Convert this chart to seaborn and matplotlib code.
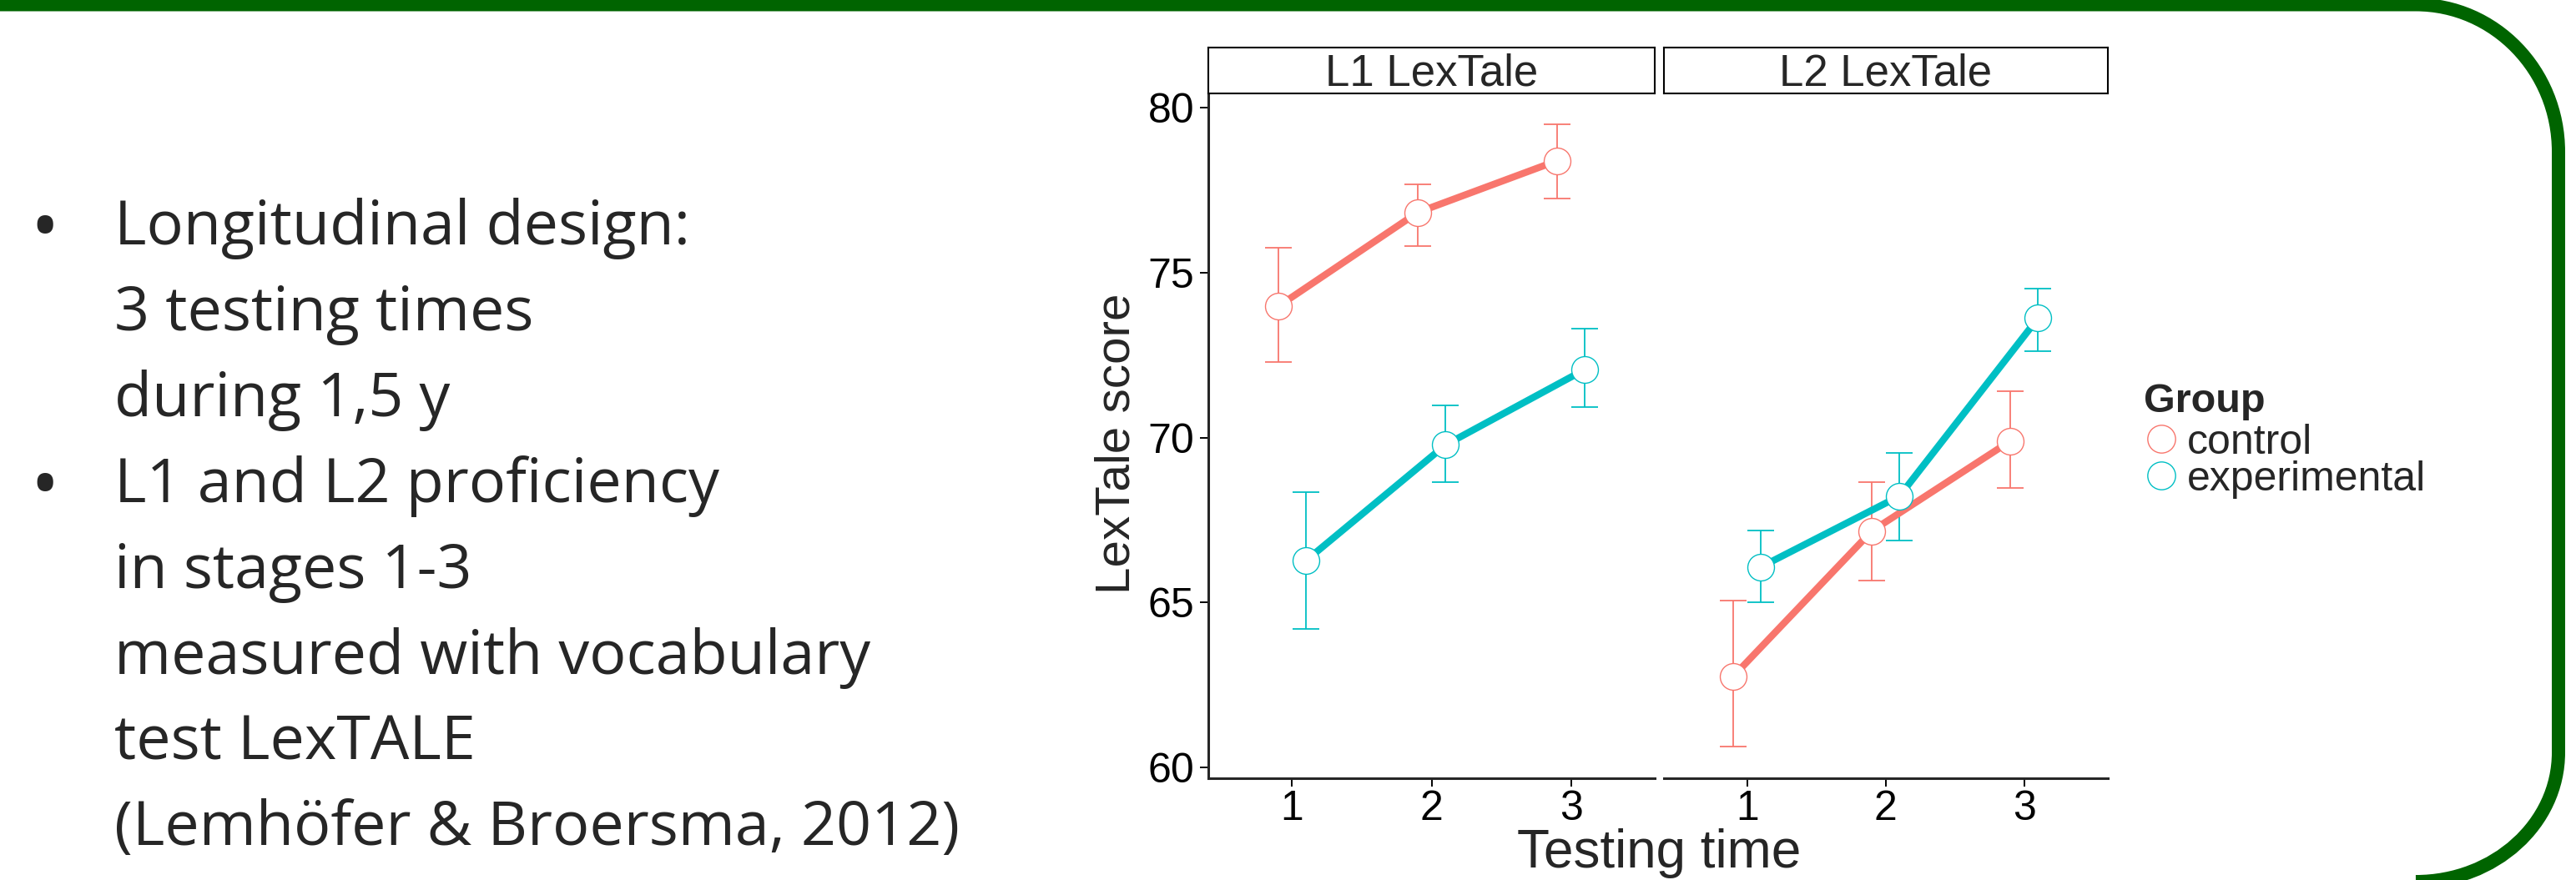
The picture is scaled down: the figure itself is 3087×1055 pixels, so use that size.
import numpy as np
import pandas as pd
import matplotlib
matplotlib.use('Agg')
import matplotlib.pyplot as plt
import seaborn as sns
from matplotlib.lines import Line2D
from matplotlib.path import Path
from matplotlib.patches import PathPatch
from matplotlib.transforms import Affine2D

# --- data ---
times = [1, 2, 3]
groups = ['control', 'experimental']
panels = ['L1 LexTale', 'L2 LexTale']
colors = ['#F8766D', '#00BFC4']

l1_control = [73.98, 76.83, 78.40]
l1_control_lo = [72.30, 75.81, 77.25]
l1_control_hi = [75.76, 77.69, 79.50]
l1_exp = [66.27, 69.78, 72.07]
l1_exp_lo = [64.20, 68.66, 70.93]
l1_exp_hi = [68.34, 70.97, 73.31]
l2_control = [62.76, 67.17, 69.90]
l2_control_lo = [60.62, 65.67, 68.48]
l2_control_hi = [65.07, 68.65, 71.42]
l2_exp = [66.08, 68.23, 73.63]
l2_exp_lo = [65.00, 66.89, 72.62]
l2_exp_hi = [67.18, 69.54, 74.53]

bullet_lines = ['Longitudinal design:', '3 testing times', 'during 1,5 y',
                'L1 and L2 proficiency', 'in stages 1-3',
                'measured with vocabulary', 'test LexTALE',
                '(Lemhöfer & Broersma, 2012)']
bullet_rows = [0, 3]

series = {
    ('L1 LexTale', 'control'): (l1_control, l1_control_lo, l1_control_hi),
    ('L1 LexTale', 'experimental'): (l1_exp, l1_exp_lo, l1_exp_hi),
    ('L2 LexTale', 'control'): (l2_control, l2_control_lo, l2_control_hi),
    ('L2 LexTale', 'experimental'): (l2_exp, l2_exp_lo, l2_exp_hi),
}
rows = []
for (panel, group), (m, lo, hi) in series.items():
    for t, a, b, c in zip(times, m, lo, hi):
        rows.append({'panel': panel, 'group': group, 'time': t,
                     'score': a, 'lo': b, 'hi': c})
df = pd.DataFrame(rows)

# --- figure ---
sns.set_style('ticks')
plt.rcParams['font.family'] = ['Liberation Sans', 'DejaVu Sans']
W, H = 3087, 1055
fig = plt.figure(figsize=(W / 100, H / 100), dpi=100)
px_to_fig = Affine2D().scale(1 / W, -1 / H).translate(0, 1) + fig.transFigure


def px_box(x0, y0, x1, y1):
    return [x0 / W, 1 - y1 / H, (x1 - x0) / W, (y1 - y0) / H]


panel_x = [(1448, 1983), (1994, 2525.5)]
top, bottom = 111.7, 933

for k, name in enumerate(panels):
    x0, x1 = panel_x[k]
    ax = fig.add_axes(px_box(x0, top, x1, bottom))
    sub = df[df['panel'] == name]
    # lines first
    sns.pointplot(data=sub, x='time', y='score', hue='group', order=times,
                  hue_order=groups, palette=colors, dodge=0.2, errorbar=None,
                  markers='none', linewidth=6, legend=False, ax=ax)
    xs = [ln.get_xdata() for ln in ax.lines[:len(groups)]]
    for i, g in enumerate(groups):
        gs = sub[sub['group'] == g]
        ax.errorbar(xs[i], gs['score'],
                    yerr=[gs['score'] - gs['lo'], gs['hi'] - gs['score']],
                    fmt='none', ecolor=colors[i], elinewidth=1.3,
                    capsize=11.5, capthick=1.3, zorder=1.5)
    # open circles on top
    sns.pointplot(data=sub, x='time', y='score', hue='group', order=times,
                  hue_order=groups, palette=colors, dodge=0.2, errorbar=None,
                  markers='o', linestyles='none', markersize=23,
                  markerfacecolor='white', markeredgewidth=1.0,
                  legend=False, ax=ax)
    ax.set_xlim(-0.6, 2.6)
    ax.set_ylim(59.67, 80.45)
    ax.set_yticks([60, 65, 70, 75, 80])
    ax.set_xlabel('')
    ax.set_ylabel('')
    ax.spines['top'].set_visible(False)
    ax.spines['right'].set_visible(False)
    ax.spines['bottom'].set_linewidth(2.2)
    ax.spines['left'].set_linewidth(2.2)
    ax.tick_params(axis='x', direction='out', length=7.2, width=1.4,
                   labelsize=36, pad=3, colors='black')
    ax.tick_params(axis='y', direction='out', length=7.2, width=1.4,
                   labelsize=36, pad=5, colors='black')
    if k > 0:
        ax.spines['left'].set_visible(False)
        ax.tick_params(axis='y', left=False, labelleft=False)

    # facet strip
    sax = fig.add_axes(px_box(x0, 57.3, x1, top))
    sax.set_xticks([])
    sax.set_yticks([])
    for sp in sax.spines.values():
        sp.set_visible(True)
        sp.set_linewidth(1.5)
        sp.set_color('black')
    sax.text(0.5, 0.42, name, ha='center', va='center', fontsize=38,
             transform=sax.transAxes)

# axis titles
fig.text(1988 / W, 1 - 1040 / H, 'Testing time', ha='center',
         va='baseline', fontsize=46)
fig.text(1339 / W, 1 - 712 / H, 'LexTale score', ha='center',
         va='bottom', rotation=90, fontsize=42)

# legend (title, open-circle keys, labels)
fig.text(2569 / W, 1 - 494 / H, 'Group', fontsize=35, weight='bold',
         va='baseline')
for i, g in enumerate(groups):
    cy = 526 + 43.5 * i
    fig.add_artist(Line2D([2590], [cy], transform=px_to_fig, marker='o',
                          linestyle='none', markersize=24,
                          markerfacecolor='white', markeredgecolor=colors[i],
                          markeredgewidth=1.0))
    fig.text(2621 / W, 1 - (cy + 18) / H, g, fontsize=36, va='baseline')

# bullet text on the left
for i, line in enumerate(bullet_lines):
    base = 293 + 102.9 * i
    fig.text(137 / W, 1 - base / H, line, fontsize=53, family='Open Sans',
             va='baseline')
    if i in bullet_rows:
        fig.text(54 / W, 1 - (base + 10) / H, '\u2022', fontsize=66,
                 family='Open Sans', va='baseline', ha='center')

# green slide frame
verts = [(-20, 5.5), (2895, 5.5),
         (2989.4, 5.5), (3066, 84.5), (3066, 182),
         (3066, 902),
         (3066, 987.6), (2989.4, 1057), (2895, 1057)]
codes = [Path.MOVETO, Path.LINETO,
         Path.CURVE4, Path.CURVE4, Path.CURVE4,
         Path.LINETO,
         Path.CURVE4, Path.CURVE4, Path.CURVE4]
frame = PathPatch(Path(verts, codes), facecolor='none', edgecolor='#006400',
                  linewidth=11.5, transform=px_to_fig, clip_on=False,
                  capstyle='butt')
fig.add_artist(frame)

fig.savefig('out.png', dpi=100)
